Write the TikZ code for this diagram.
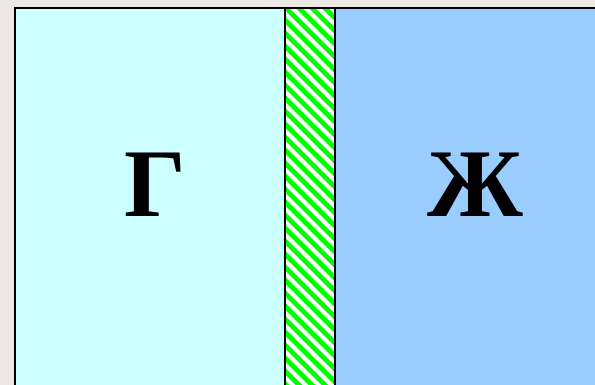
\documentclass[tikz,border=0pt]{standalone}
\usepackage{fontspec}
\setmainfont{Liberation Serif}
\definecolor{bgc}{HTML}{EEE8E4}
\definecolor{leftc}{HTML}{CCFFFF}
\definecolor{rightc}{HTML}{99CCFF}
\definecolor{hatchc}{HTML}{00FF00}
\begin{document}
\begin{tikzpicture}[x=1pt,y=1pt,
  region/.style={draw=black,line width=2pt},
  letter/.style={font=\fontsize{97}{97}\selectfont\bfseries,anchor=base,inner sep=0pt}]
\useasboundingbox (0,0) rectangle (595,385);
\fill[bgc] (0,0) rectangle (595,385);
% left region
\filldraw[region,fill=leftc] (15,-5) rectangle (285,377);
% right region
\filldraw[region,fill=rightc] (335,-5) rectangle (600,377);
% hatched strip
\fill[white] (285,-5) rectangle (335,377);
\begin{scope}
\clip (285,-5) rectangle (335,377);
\foreach \c in {260,273,...,780}{
  \draw[hatchc,line width=4.8pt] (\c-420,420) -- (\c+20,-20);
}
\end{scope}
\draw[region] (285,-5) rectangle (335,377);
\node[letter] (g) at (155,168) {Г};
\node[letter] (zh) at (475,168) {Ж};
\end{tikzpicture}
\end{document}
